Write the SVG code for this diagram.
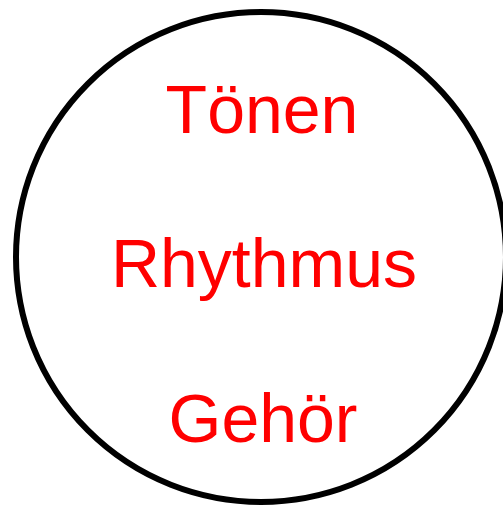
<svg xmlns="http://www.w3.org/2000/svg" width="503" height="507" viewBox="0 0 503 507">
  <style>
    .ring { fill: #ffffff; stroke: #000000; stroke-width: 6; }
    .word { font-family: "Liberation Sans", Arial, sans-serif; font-size: 68px; fill: #ff0000; text-anchor: middle; }
  </style>
  <rect width="503" height="507" fill="#ffffff"/>
  <g id="circle">
    <circle class="ring" cx="261" cy="257" r="245"/>
  </g>
  <g id="label-toenen">
    <text class="word" x="262" y="133">Tönen</text>
  </g>
  <g id="label-rhythmus">
    <text class="word" x="264" y="287">Rhythmus</text>
  </g>
  <g id="label-gehoer">
    <text class="word" x="263" y="442">Gehör</text>
  </g>
</svg>
